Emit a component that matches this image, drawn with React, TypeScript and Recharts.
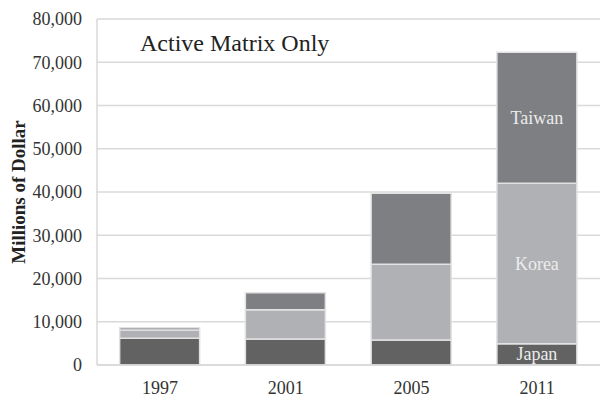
import React from "react";
import { BarChart, Bar, XAxis, YAxis, CartesianGrid, LabelList } from "recharts";

const years = ["1997", "2001", "2005", "2011"];
const japan = [6200, 6000, 5800, 4900];
const korea = [1900, 6800, 17500, 37100];
const taiwan = [500, 3900, 16400, 30300];
const yTicks = [0, 10000, 20000, 30000, 40000, 50000, 60000, 70000, 80000];

const data = years.map((year, i) => ({
  year,
  Japan: japan[i],
  Korea: korea[i],
  Taiwan: taiwan[i],
}));

const FONT = '"Liberation Serif", "Times New Roman", serif';
const lastIndex = years.length - 1;

// only the 2011 bar carries the country names
const segmentLabel = (name: string) => (props: any) => {
  const { x, y, width, height, index } = props;
  if (index !== lastIndex) return null;
  return (
    <text
      x={x + width / 2}
      y={y + height / 2}
      textAnchor="middle"
      dominantBaseline="central"
      style={{ fontFamily: FONT, fontSize: 18, fill: "#ececec" }}
    >
      {name}
    </text>
  );
};

const yLabel = () => (
  <text
    transform="translate(18,192) rotate(-90)"
    textAnchor="middle"
    dominantBaseline="central"
    style={{ fontFamily: FONT, fontSize: 19, fontWeight: "bold", fill: "#222" }}
  >
    Millions of Dollar
  </text>
);

const tickStyle = { fontFamily: FONT, fontSize: 18, fill: "#333" };

export default function App() {
  return (
    <div style={{ position: "absolute", left: 0, top: 0, width: 600, height: 400, background: "#fff" }}>
      <BarChart
        width={600}
        height={400}
        data={data}
        margin={{ top: 19, right: 0, bottom: 0, left: 0 }}
        barCategoryGap="18%"
      >
        <CartesianGrid vertical={false} stroke="#d9d9d9" strokeWidth={1.5} />
        <XAxis
          dataKey="year"
          height={35}
          tickLine={false}
          tickSize={0}
          tickMargin={16}
          axisLine={{ stroke: "#d9d9d9", strokeWidth: 1.5 }}
          tick={tickStyle}
        />
        <YAxis
          width={97}
          domain={[0, 80000]}
          ticks={yTicks}
          interval={0}
          tickLine={false}
          tickSize={0}
          tickMargin={15}
          axisLine={{ stroke: "#d9d9d9", strokeWidth: 1.5 }}
          tick={tickStyle}
          tickFormatter={(v: number) => v.toLocaleString("en-US")}
          label={{ content: yLabel }}
        />
        <Bar dataKey="Japan" stackId="a" fill="#626262" stroke="#e2e2e2" strokeWidth={1.5} isAnimationActive={false}>
          <LabelList dataKey="Japan" content={segmentLabel("Japan")} />
        </Bar>
        <Bar dataKey="Korea" stackId="a" fill="#b0b1b4" stroke="#e2e2e2" strokeWidth={1.5} isAnimationActive={false}>
          <LabelList dataKey="Korea" content={segmentLabel("Korea")} />
        </Bar>
        <Bar dataKey="Taiwan" stackId="a" fill="#7e7f82" stroke="#e2e2e2" strokeWidth={1.5} isAnimationActive={false}>
          <LabelList dataKey="Taiwan" content={segmentLabel("Taiwan")} />
        </Bar>
      </BarChart>
      <div
        style={{
          position: "absolute",
          left: 140,
          top: 28,
          fontFamily: FONT,
          fontSize: 24,
          color: "#222",
          lineHeight: "30px",
          whiteSpace: "nowrap",
        }}
      >
        Active Matrix Only
      </div>
    </div>
  );
}
